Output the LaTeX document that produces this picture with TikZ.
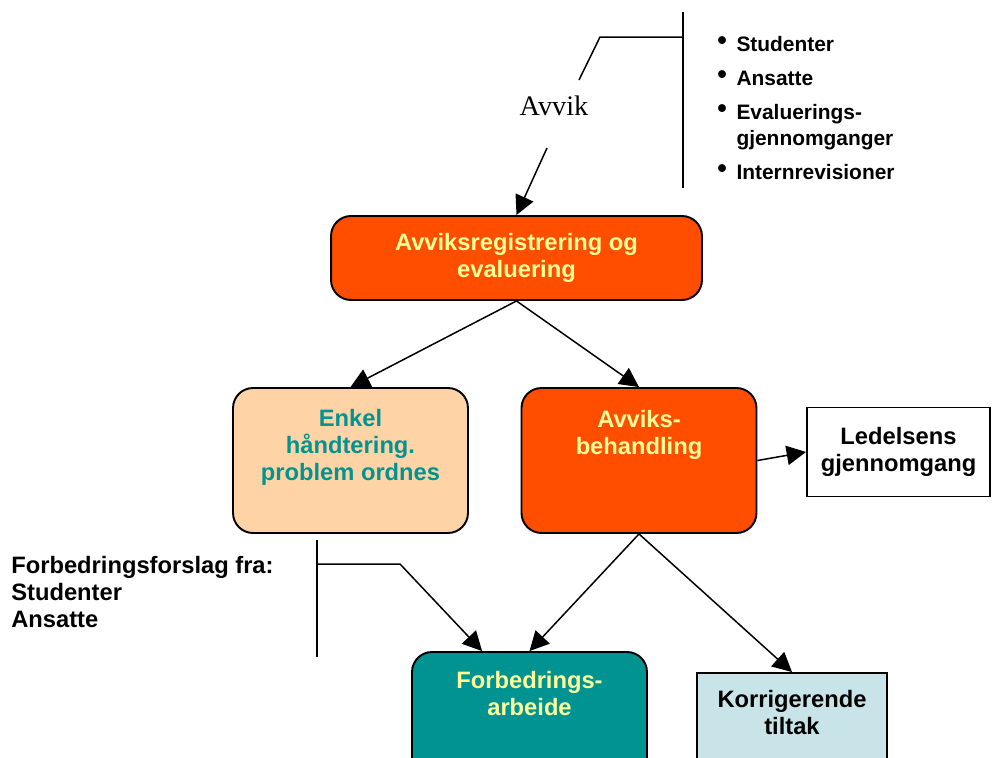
\documentclass[tikz,border=0pt]{standalone}
\usepackage{fontspec}
\setmainfont{Liberation Sans}
\newfontfamily\avvikfont{Liberation Serif}
\usepackage{tikz}
\usetikzlibrary{arrows.meta, positioning, calc}
\usepackage{xcolor}

\definecolor{avvikorange}{RGB}{255,78,0}
\definecolor{fersken}{RGB}{254,212,166}
\definecolor{blagronn}{RGB}{0,147,145}
\definecolor{lysgul}{RGB}{255,255,153}
\definecolor{lysbla}{RGB}{200,228,232}

\newcommand{\kulepunkt}{\raisebox{1.3pt}{\scalebox{1.3}{\textbullet}}}

\begin{document}
\begin{tikzpicture}[x=0.02cm, y=-0.02cm,
    boks/.style={draw=black, line width=1.1pt, rounded corners=0.4cm},
    tekst/.style={font=\bfseries\fontsize{13.5}{15.3}\selectfont, align=center, inner sep=0pt},
    pil/.style={line width=0.85pt, -{Triangle[length=11pt,width=11pt]}}]
    \useasboundingbox (0,0) rectangle (992,758);

    % Boxes
    \node[boks, fill=avvikorange, minimum width=7.42cm, minimum height=1.68cm,
          tekst, text=lysgul] (reg) at (516.5,258) {Avviksregistrering og\\evaluering};
    \node[boks, fill=fersken, minimum width=4.7cm, minimum height=2.9cm] (enkel) at (350.5,460.5) {};
    \node[boks, fill=avvikorange, minimum width=4.7cm, minimum height=2.9cm] (avb) at (639,460.5) {};
    \node[draw=black, line width=1.1pt, fill=white, minimum width=3.66cm, minimum height=1.78cm,
          tekst] (led) at (898.5,452) {Ledelsens\\gjennomgang};
    \node[boks, fill=blagronn, minimum width=4.7cm, minimum height=2.9cm] (forb) at (529.5,724.5) {};
    \node[draw=black, line width=1.1pt, fill=lysbla, minimum width=3.8cm, minimum height=2.2cm] (korr) at (792,728) {};

    % Box texts
    \node[tekst, text=blagronn, anchor=north] (enkeltekst) at (350.5,409) {Enkel\\håndtering.\\problem ordnes};
    \node[tekst, text=lysgul, anchor=north] (avbtekst) at (639,410) {Avviks-\\behandling};
    \node[tekst, text=lysgul, anchor=north] (forbtekst) at (529.5,671) {Forbedrings-\\arbeide};
    \node[tekst, anchor=north] (korrtekst) at (792,690) {Korrigerende\\tiltak};

    % Avvik with bracket and sources
    \node[font=\avvikfont\fontsize{16.1}{18}\selectfont, inner sep=0pt] (avvik) at (554,106) {Avvik};
    \draw[line width=0.85pt] (683,12) -- (683,188);
    \draw[line width=0.85pt] (683,37) -- (600,37) -- (579,80);
    \begin{scope}
        \clip (700,0) rectangle (992,179);
        \node[anchor=north west, inner sep=0pt, font=\bfseries\fontsize{11.9}{14.8}\selectfont] (kilder) at (717,33)
        {\begin{tabular}{@{}l@{\hspace{5.5pt}}l@{}}
            \kulepunkt & Studenter\\[4.5pt]
            \kulepunkt & Ansatte\\[4.5pt]
            \kulepunkt & Evaluerings-\\
                       & gjennomganger\\[4.5pt]
            \kulepunkt & Internrevisioner
        \end{tabular}};
    \end{scope}
    \coordinate (avvikpil) at (547,148);
    \draw[pil] (avvikpil) -- (reg.north);

    % Suggestions on the left
    \node[tekst, align=left, anchor=north west] (forslag) at (11,556) {Forbedringsforslag fra:\\Studenter\\Ansatte};
    \draw[line width=0.85pt] (317,540) -- (317,657);
    \draw[pil] (317,564) -- (400,564) -- ($(forb.north)!0.4!(forb.north west)$);

    % Arrows
    \draw[pil] (reg.south) -- (enkel.north);
    \draw[pil] (reg.south) -- (avb.north);
    \draw[pil] (avb.east) -- (led.west);
    \draw[pil] (avb.south) -- (forb.north);
    \draw[pil] (avb.south) -- (korr.north);
\end{tikzpicture}
\end{document}
